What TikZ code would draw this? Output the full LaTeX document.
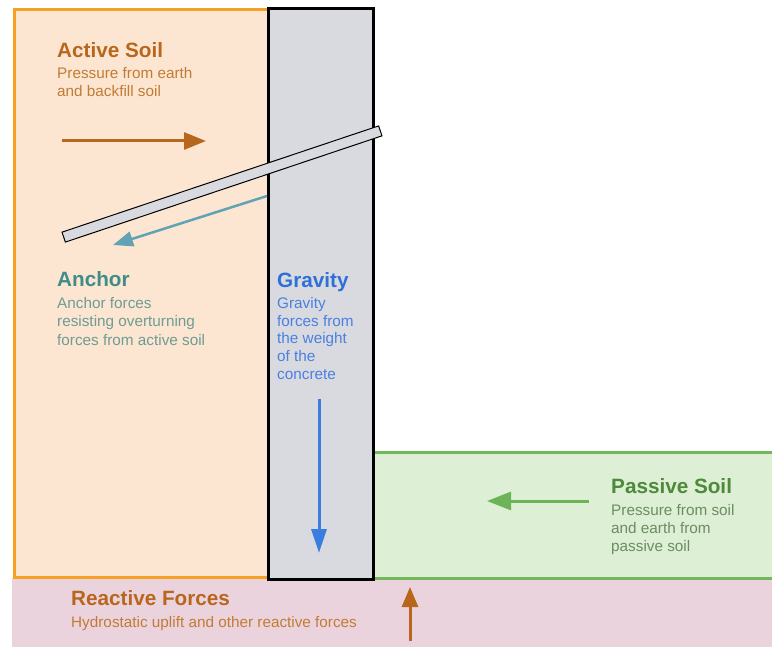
\documentclass[tikz,border=0pt]{standalone}
\usepackage{fontspec}
\setmainfont{Liberation Sans}
\usetikzlibrary{arrows.meta}
\definecolor{peach}{HTML}{FDE6D1}
\definecolor{orangeb}{HTML}{F8A023}
\definecolor{wallg}{HTML}{D9DADF}
\definecolor{passg}{HTML}{DDEFD5}
\definecolor{greenb}{HTML}{72B85A}
\definecolor{pinkf}{HTML}{EBD3DE}
\definecolor{brownt}{HTML}{B8661C}
\definecolor{browns}{HTML}{C27B35}
\definecolor{tealt}{HTML}{3F8C8A}
\definecolor{teals}{HTML}{6E9C94}
\definecolor{tealarr}{HTML}{5FA3B4}
\definecolor{bluet}{HTML}{2F6FD8}
\definecolor{blues}{HTML}{4A80E2}
\definecolor{bluearr}{HTML}{3A7DE0}
\definecolor{greent}{HTML}{4E8A3A}
\definecolor{greens}{HTML}{6D8C62}
\definecolor{greenarr}{HTML}{6DB357}
\begin{document}
\begin{tikzpicture}[x=1pt,y=-1pt,
  title/.style={anchor=base west,inner sep=0pt,font=\fontsize{20.7}{24}\selectfont\bfseries},
  sub/.style={anchor=base west,inner sep=0pt,align=left,font=\fontsize{15.3}{18.5}\selectfont},
  force/.style={line width=3pt,-{Triangle[length=22pt,width=17pt]}}]
\useasboundingbox (0,0) rectangle (772,647);
% reactive zone
\fill[pinkf] (12,578) rectangle (772,647);
% passive soil
\fill[passg] (374,452) rectangle (772,578);
\draw[greenb,line width=3pt] (374,452) -- (772,452);
\draw[greenb,line width=3pt] (374,578) -- (772,578);
% active soil
\draw[orangeb,fill=peach,line width=3pt] (14,10) rectangle (268,577);
% wall
\draw[black,fill=wallg,line width=3pt] (268,9) rectangle (373,579);
% anchor bar
\node[draw=black,fill=wallg,line width=1pt,minimum width=334pt,minimum height=10.5pt,inner sep=0pt,rotate=18.55] (bar) at (222,184) {};
% arrows
\coordinate (as1) at (62,141); \coordinate (as2) at (206,141);
\draw[force,brownt] (as1) -- (as2);
\coordinate (an1) at (267,196); \coordinate (an2) at (113,245);
\draw[tealarr,line width=2.5pt,-{Triangle[length=20pt,width=15pt]}] (an1) -- (an2);
\coordinate (gr1) at (319,399); \coordinate (gr2) at (319,553);
\draw[bluearr,line width=3pt,-{Triangle[length=24pt,width=15pt]}] (gr1) -- (gr2);
\coordinate (ps1) at (589,501); \coordinate (ps2) at (487,501);
\draw[greenarr,line width=3pt,-{Triangle[length=24pt,width=18pt]}] (ps1) -- (ps2);
\coordinate (rf1) at (410,641); \coordinate (rf2) at (410,587);
\draw[brownt,line width=3pt,-{Triangle[length=20pt,width=16pt]}] (rf1) -- (rf2);
% texts (multi-line nodes: base = last line's baseline)
\node[title,text=brownt] (t1) at (57,58) {Active Soil};
\node[sub,text=browns] (s1) at (57,97) {Pressure from earth\\and backfill soil};
\node[title,text=tealt] (t2) at (57,287) {Anchor};
\node[sub,text=teals] (s2) at (57,345) {Anchor forces\\resisting overturning\\forces from active soil};
\node[title,text=bluet] (t3) at (277,288) {Gravity};
\node[sub,text=blues,font=\fontsize{15.3}{18}\selectfont] (s3) at (277,380) {Gravity\\forces from\\the weight\\of the\\concrete};
\node[title,text=greent] (t4) at (611,493) {Passive Soil};
\node[sub,text=greens,font=\fontsize{15.3}{18}\selectfont] (s4) at (611,551) {Pressure from soil\\and earth from\\passive soil};
\node[title,text=brownt] (t5) at (71,605) {Reactive Forces};
\node[sub,text=browns] (s5) at (71,627) {Hydrostatic uplift and other reactive forces};
\end{tikzpicture}
\end{document}
